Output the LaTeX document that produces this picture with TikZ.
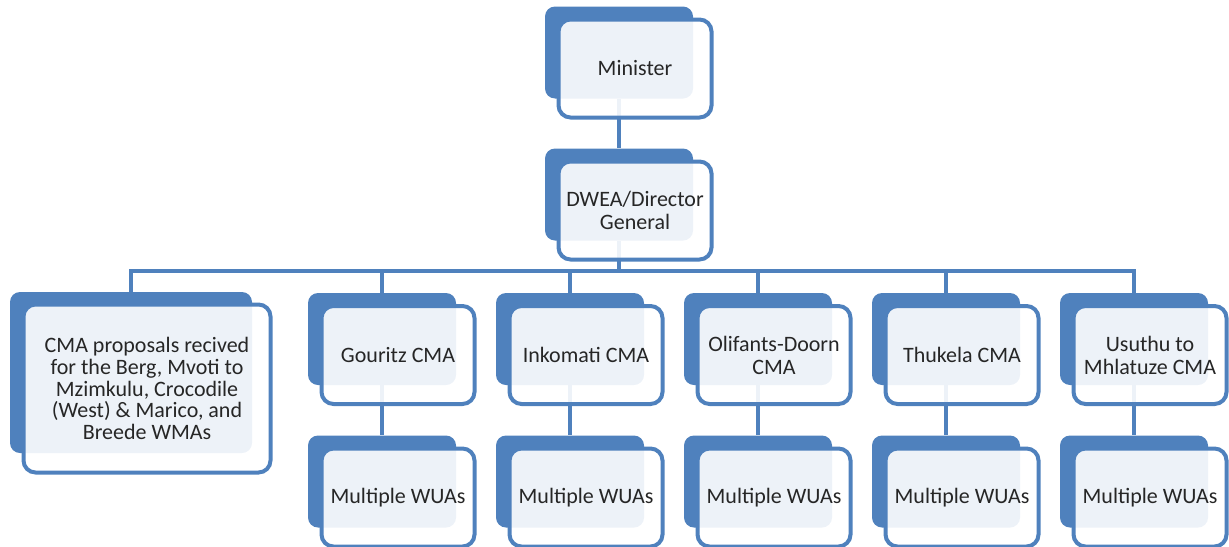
\documentclass[tikz,border=0pt]{standalone}
\usepackage{fontspec}
\setmainfont{Carlito}
\usetikzlibrary{backgrounds}
\definecolor{boxblue}{RGB}{79,129,189}
\definecolor{boxtext}{RGB}{38,38,38}

\begin{document}
\begin{tikzpicture}[
            x=0.5pt, y=-0.5pt,
            back box/.style={rectangle, rounded corners=5pt, fill=boxblue, inner sep=0pt,
                minimum width=74pt, minimum height=46pt},
            front box/.style={rectangle, rounded corners=6pt, draw=boxblue, line width=2pt,
                fill=white, fill opacity=0.9, text opacity=1, text=boxtext, inner sep=0pt,
                minimum width=76.5pt, minimum height=49pt, align=center,
                font=\fontsize{11}{11.5}\selectfont},
            link/.style={draw=boxblue, line width=2pt},
            ]
            \useasboundingbox (0,0) rectangle (1229,546);
            \def\dx{16}
            \def\dy{16}
            
            % back shapes
            \node[back box] (min) at (619,52.5) {};
            \node[back box] (dg) at (619,194.5) {};
            \node[back box, minimum width=121pt, minimum height=80.5pt] (prop) at (131,372.5) {};
            \node[back box] (gou) at (382,339) {};
            \node[back box] (ink) at (570,339) {};
            \node[back box] (oli) at (758,339) {};
            \node[back box] (thu) at (946,339) {};
            \node[back box] (usu) at (1134,339) {};
            \node[back box] (wua1) at (382,481.5) {};
            \node[back box] (wua2) at (570,481.5) {};
            \node[back box] (wua3) at (758,481.5) {};
            \node[back box] (wua4) at (946,481.5) {};
            \node[back box] (wua5) at (1134,481.5) {};
            
            % front shapes with the texts
            \node[front box] (min f) at ([shift={(\dx,\dy)}]min.center) {Minister};
            \node[front box] (dg f) at ([shift={(\dx,\dy)}]dg.center) {DWEA/Director\\General};
            \node[front box, minimum width=123.5pt, minimum height=84pt, font=\fontsize{11}{10.9}\selectfont]
                (prop f) at ([shift={(\dx,\dy)}]prop.center)
                {CMA proposals recived\\for the Berg, Mvoti to\\Mzimkulu, Crocodile\\(West) \& Marico, and\\Breede WMAs};
            \node[front box] (gou f) at ([shift={(\dx,\dy)}]gou.center) {Gouritz CMA};
            \node[front box] (ink f) at ([shift={(\dx,\dy)}]ink.center) {Inkomati CMA};
            \node[front box] (oli f) at ([shift={(\dx,\dy)}]oli.center) {Olifants-Doorn\\CMA};
            \node[front box] (thu f) at ([shift={(\dx,\dy)}]thu.center) {Thukela CMA};
            \node[front box] (usu f) at ([shift={(\dx,\dy)}]usu.center) {Usuthu to\\Mhlatuze CMA};
            \node[front box] (wua1 f) at ([shift={(\dx,\dy)}]wua1.center) {Multiple WUAs};
            \node[front box] (wua2 f) at ([shift={(\dx,\dy)}]wua2.center) {Multiple WUAs};
            \node[front box] (wua3 f) at ([shift={(\dx,\dy)}]wua3.center) {Multiple WUAs};
            \node[front box] (wua4 f) at ([shift={(\dx,\dy)}]wua4.center) {Multiple WUAs};
            \node[front box] (wua5 f) at ([shift={(\dx,\dy)}]wua5.center) {Multiple WUAs};
            
            % connectors
            \begin{scope}[on background layer]
                \coordinate (bus) at (0,271);
                \draw[link] (min.south) -- (dg.north);
                \draw[link] (dg.south) -- (dg.south |- bus);
                \draw[link] (prop.north) -- (prop.north |- bus) -- (usu.north |- bus) -- (usu.north);
                \draw[link] (gou.north) -- (gou.north |- bus);
                \draw[link] (ink.north) -- (ink.north |- bus);
                \draw[link] (oli.north) -- (oli.north |- bus);
                \draw[link] (thu.north) -- (thu.north |- bus);
                \draw[link] (gou.south) -- (wua1.north);
                \draw[link] (ink.south) -- (wua2.north);
                \draw[link] (oli.south) -- (wua3.north);
                \draw[link] (thu.south) -- (wua4.north);
                \draw[link] (usu.south) -- (wua5.north);
            \end{scope}
        \end{tikzpicture}
\end{document}
